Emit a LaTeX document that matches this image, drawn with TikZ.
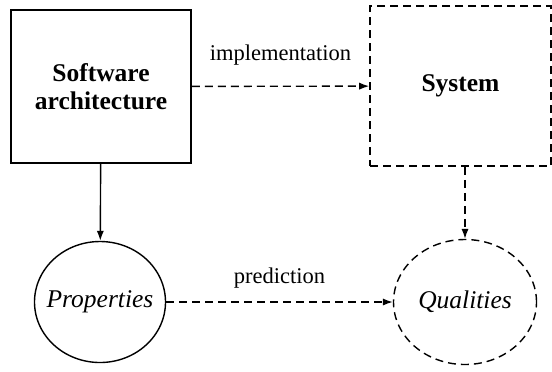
\documentclass[tikz,border=0pt]{standalone}
\usepackage{fontspec}
\setmainfont{Liberation Serif}[BoldFont={Liberation Serif Bold},ItalicFont={Liberation Serif Italic}]
\usetikzlibrary{arrows.meta,positioning,shapes.geometric}

\begin{document}
\begin{tikzpicture}[x=0.5bp,y=0.5bp,every node/.style={font=\fontsize{11.3}{13.5}\selectfont}]
    \tikzset{block/.style={draw,line width=0.8bp,align=center,
      font=\fontsize{12.8}{14}\selectfont\bfseries},
      blob/.style={ellipse,draw,line width=0.7bp,inner xsep=-4bp,inner ysep=0pt,
      font=\fontsize{12.8}{15}\selectfont\itshape},
      dashy/.style={dash pattern=on 4bp off 2.5bp},
      link/.style={-{Latex[length=5bp,width=3.6bp]},line width=0.7bp}}
    \useasboundingbox (0,0) rectangle (552,371);
    \node[block,minimum width=90bp,minimum height=76.5bp] (arch) at (101,284.5) {Software\\architecture};
    \node[block,dashy,minimum width=90.5bp,minimum height=80bp] (sys) at (460.5,285) {System};
    \node[blob,minimum width=65.5bp,minimum height=60.5bp] (prop) at (100,69) {Properties};
    \node[blob,dashy,minimum width=71.5bp,minimum height=62.5bp] (qual) at (465,69) {Qualities};
    \draw[link] (arch) -- (prop);
    \draw[link,dashy] (arch) -- node[above=7bp] {implementation} (sys);
    \draw[link,dashy] (sys.south -| qual.north) -- (qual.north);
    \draw[link,dashy] (prop) -- node[above=3bp] {prediction} (qual);
  \end{tikzpicture}
\end{document}
